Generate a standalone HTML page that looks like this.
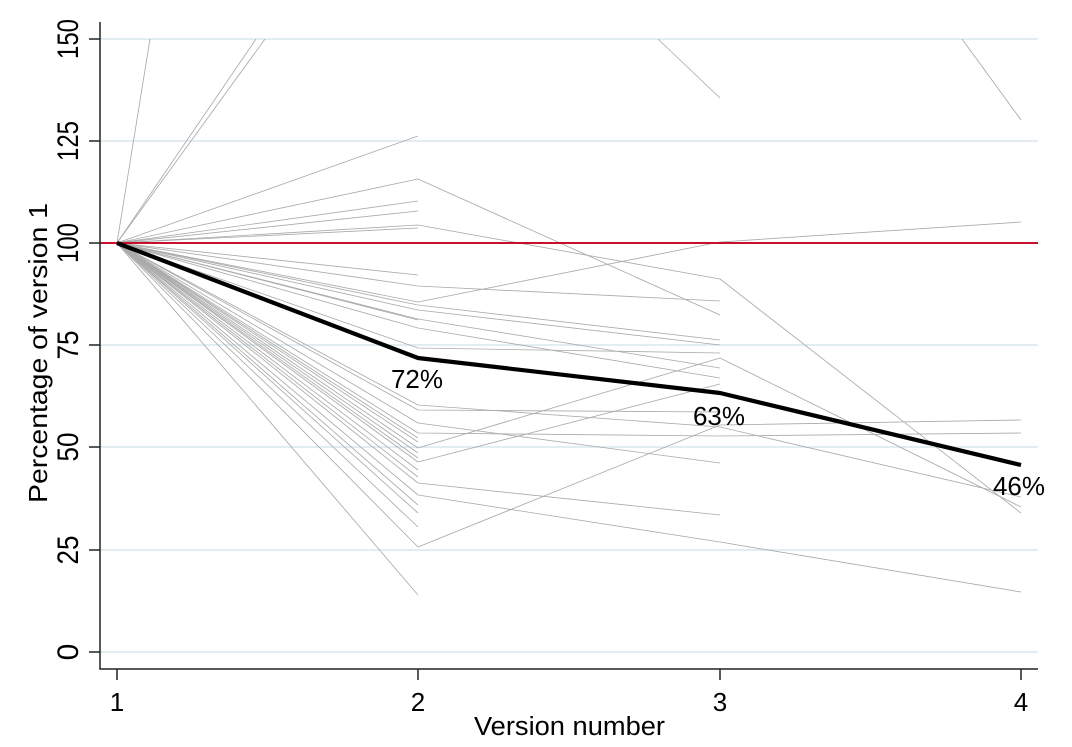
<!DOCTYPE html>
<html>
<head>
<meta charset="utf-8">
<style>
  html, body { margin: 0; padding: 0; background: #ffffff; }
  body { width: 1072px; height: 747px; overflow: hidden; }
  svg { display: block; }
  text { font-family: "Liberation Sans", Arial, sans-serif; fill: #000; }
</style>
</head>
<body>
<svg width="1072" height="747" viewBox="0 0 1072 747" xmlns="http://www.w3.org/2000/svg">
  <rect x="0" y="0" width="1072" height="747" fill="#ffffff"/>

  <!-- gridlines -->
  <g stroke="#e3edf1" stroke-width="2">
    <line x1="100" y1="39" x2="1038" y2="39"/>
    <line x1="100" y1="141" x2="1038" y2="141"/>
    <line x1="100" y1="345" x2="1038" y2="345"/>
    <line x1="100" y1="447" x2="1038" y2="447"/>
    <line x1="100" y1="550" x2="1038" y2="550"/>
    <line x1="100" y1="652" x2="1038" y2="652"/>
  </g>

  <!-- individual series -->
  <g fill="none" stroke="#aaaaaa" stroke-width="0.85" stroke-linejoin="round">
    <polyline points="117,243 150,39"/>
    <polyline points="117,243 256,39"/>
    <polyline points="658,39 720,98"/>
    <polyline points="117,243 265,39"/>
    <polyline points="962,39 1021,120"/>
    <polyline points="117,243 418,136"/>
    <polyline points="117,243 418,179 720,315"/>
    <polyline points="117,243 418,201"/>
    <polyline points="117,243 418,211"/>
    <polyline points="117,243 418,225 720,279 1021,513"/>
    <polyline points="117,243 418,228"/>
    <polyline points="117,243 418,275"/>
    <polyline points="117,243 418,286 720,301"/>
    <polyline points="117,243 418,302 720,242 1021,222"/>
    <polyline points="117,243 418,305 720,340"/>
    <polyline points="117,243 418,310 720,345"/>
    <polyline points="117,243 418,319 720,368"/>
    <polyline points="117,243 418,320"/>
    <polyline points="117,243 418,328 720,378"/>
    <polyline points="117,243 418,348 720,353"/>
    <polyline points="117,243 418,405 720,427 1021,497"/>
    <polyline points="117,243 418,410 720,412"/>
    <polyline points="117,243 418,423 720,463"/>
    <polyline points="117,243 418,433 720,436 1021,433"/>
    <polyline points="117,243 418,442"/>
    <polyline points="117,243 418,448 720,358 1021,507"/>
    <polyline points="117,243 418,453"/>
    <polyline points="117,243 418,462 720,384"/>
    <polyline points="117,243 418,470"/>
    <polyline points="117,243 418,483 720,515"/>
    <polyline points="117,243 418,495 720,542 1021,592"/>
    <polyline points="117,243 418,513"/>
    <polyline points="117,243 418,527"/>
    <polyline points="117,243 418,547 720,425 1021,420"/>
    <polyline points="117,243 418,595"/>
    <polyline points="117,243 418,438"/>
    <polyline points="117,243 418,458"/>
    <polyline points="117,243 418,477"/>
    <polyline points="117,243 418,505"/>
  </g>

  <!-- reference line at 100 -->
  <line x1="100" y1="243" x2="1038" y2="243" stroke="#c8102e" stroke-width="2"/>

  <!-- mean line -->
  <polyline points="117,243 418,358 720,393 1021,465" fill="none" stroke="#000" stroke-width="4.2" stroke-linejoin="round" stroke-linecap="butt"/>

  <!-- percentage labels -->
  <text x="417" y="388" font-size="26" text-anchor="middle">72%</text>
  <text x="719" y="425" font-size="26" text-anchor="middle">63%</text>
  <text x="1019" y="495" font-size="26" text-anchor="middle">46%</text>

  <!-- axes -->
  <g stroke="#222" stroke-width="1.5" fill="none">
    <line x1="100" y1="22" x2="100" y2="669.5"/>
    <line x1="99.3" y1="669" x2="1038" y2="669"/>
    <line x1="89" y1="39" x2="100" y2="39"/>
    <line x1="89" y1="141" x2="100" y2="141"/>
    <line x1="89" y1="243" x2="100" y2="243"/>
    <line x1="89" y1="345" x2="100" y2="345"/>
    <line x1="89" y1="447" x2="100" y2="447"/>
    <line x1="89" y1="550" x2="100" y2="550"/>
    <line x1="89" y1="652" x2="100" y2="652"/>
    <line x1="117" y1="669" x2="117" y2="680"/>
    <line x1="418" y1="669" x2="418" y2="680"/>
    <line x1="720" y1="669" x2="720" y2="680"/>
    <line x1="1021" y1="669" x2="1021" y2="680"/>
  </g>

  <!-- y tick labels -->
  <g font-size="30" text-anchor="middle">
    <text transform="translate(78,39) rotate(-90)" textLength="40" lengthAdjust="spacingAndGlyphs">150</text>
    <text transform="translate(78,141) rotate(-90)" textLength="40" lengthAdjust="spacingAndGlyphs">125</text>
    <text transform="translate(78,243) rotate(-90)" textLength="40" lengthAdjust="spacingAndGlyphs">100</text>
    <text transform="translate(78,345) rotate(-90)" textLength="29" lengthAdjust="spacingAndGlyphs">75</text>
    <text transform="translate(78,447) rotate(-90)" textLength="29" lengthAdjust="spacingAndGlyphs">50</text>
    <text transform="translate(78,550) rotate(-90)" textLength="29" lengthAdjust="spacingAndGlyphs">25</text>
    <text transform="translate(78,652) rotate(-90)">0</text>
  </g>

  <!-- y title -->
  <text transform="translate(47,353) rotate(-90)" font-size="26" text-anchor="middle" textLength="300" lengthAdjust="spacingAndGlyphs">Percentage of version 1</text>

  <!-- x tick labels -->
  <g font-size="26" text-anchor="middle">
    <text x="117" y="711">1</text>
    <text x="418" y="711">2</text>
    <text x="720" y="711">3</text>
    <text x="1021" y="711">4</text>
  </g>

  <!-- x title -->
  <text x="569.5" y="735" font-size="25.5" text-anchor="middle" textLength="191" lengthAdjust="spacingAndGlyphs">Version number</text>
</svg>
</body>
</html>
